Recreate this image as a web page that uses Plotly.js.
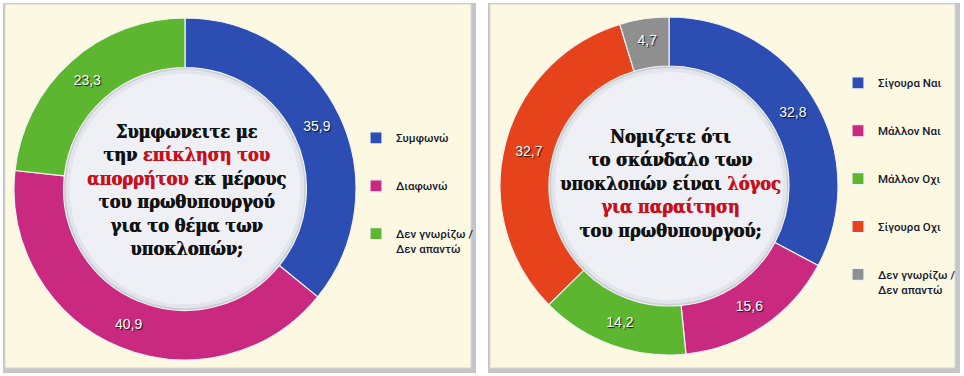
<!DOCTYPE html>
<html>
<head>
<meta charset="utf-8">
<script src="https://cdn.plot.ly/plotly-3.0.1.min.js"></script>
<style>
html, body { margin: 0; padding: 0; background: #ffffff; }
#chart { width: 964px; height: 376px; }
</style>
</head>
<body>
<div id="chart"></div>
<script>
// ---- Data ----
const leftLabels = ['Συμφωνώ', 'Διαφωνώ', 'Δεν γνωρίζω /<br>Δεν απαντώ'];
const leftValues = [35.9, 40.9, 23.3];
const leftColors = ['#2c4db2', '#c92a80', '#5cb62f'];

const rightLabels = ['Σίγουρα Ναι', 'Μάλλον Ναι', 'Μάλλον Οχι', 'Σίγουρα Οχι', 'Δεν γνωρίζω /<br>Δεν απαντώ'];
const rightValues = [32.8, 15.6, 14.2, 32.7, 4.7];
const rightColors = ['#2c4db2', '#c92a80', '#5cb62f', '#e6431d', '#8f8f8f'];

const RED = '#c8101c';
const red = s => '<span style="color:' + RED + ';text-shadow:0.6px 0 0 ' + RED + '">' + s + '</span>';
const leftQuestion = 'Συμφωνειτε με<br>την ' + red('επίκληση του') + '<br>' +
  red('απορρήτου') + ' εκ μέρους<br>του πρωθυπουργού<br>για το θέμα των<br>υποκλοπών;';
const rightQuestion = 'Νομιζετε ότι<br>το σκάνδαλο των<br>υποκλοπών είναι ' + red('λόγος') + '<br>' +
  red('για παραίτηση') + '<br>του πρωθυπουργού;';

// ---- Geometry (pixels) ----
const W = 964, H = 376;
const fx = x => x / W;
const fy = y => 1 - y / H;
const L = { cx: 185, cy: 189, r: 171 };
const R = { cx: 669, cy: 186, r: 169 };
const HOLE = 0.71;

// blank line above each legend entry spreads the entries apart;
// the suffix keeps the two pies' identical labels from merging into one legend entry
const padLabels = (labels, suffix) => labels.map(l => {
  const lines = l.split('<br>').length;
  return '\u00a0' + suffix + '<br>' + l + (lines === 1 ? '<br>\u00a0' : '');
});

function pieTrace(labels, values, colors, g, legendId, suffix) {
  return {
    type: 'pie',
    labels: padLabels(labels, suffix),
    values: values,
    sort: false,
    direction: 'clockwise',
    rotation: 0,
    hole: HOLE,
    marker: { colors: colors, line: { color: '#f2f2f2', width: 1.2 } },
    domain: { x: [fx(g.cx - g.r), fx(g.cx + g.r)], y: [fy(g.cy + g.r), fy(g.cy - g.r)] },
    textinfo: 'value',
    texttemplate: '%{value:.1f}',
    textposition: 'inside',
    insidetextorientation: 'horizontal',
    textfont: { family: 'Liberation Sans, Arial, sans-serif', size: 14, color: '#ffffff',
                shadow: '1px 1px 1px rgba(0,0,0,0.85)' },
    hoverinfo: 'skip',
    legend: legendId
  };
}

function panelShapes(x0, x1, y0, y1) {
  return [
    { type: 'rect', layer: 'below', xref: 'paper', yref: 'paper',
      x0: fx(x0 - 2), x1: fx(x1 + 5), y0: fy(y1 + 5), y1: fy(y0 - 1),
      fillcolor: '#c4c6c9', line: { width: 0 } },
    { type: 'rect', layer: 'below', xref: 'paper', yref: 'paper',
      x0: fx(x0), x1: fx(x1), y0: fy(y1), y1: fy(y0),
      fillcolor: '#fcf8e2', line: { color: '#d6d6d6', width: 1 } }
  ];
}

function holeShapes(g) {
  const hr = g.r * HOLE;
  const mk = (r, col) => ({
    type: 'circle', layer: 'below', xref: 'paper', yref: 'paper',
    xsizemode: 'pixel', ysizemode: 'pixel',
    xanchor: fx(g.cx), yanchor: fy(g.cy),
    x0: -r, x1: r, y0: -r, y1: r,
    fillcolor: col, line: { width: 0 }
  });
  return [mk(hr + 1, '#c9ccd3'), mk(hr - 2, '#e2e5eb'), mk(hr - 6, '#eef0f5')];
}

const qFont = { family: 'DejaVu Serif Condensed, DejaVu Serif, serif', size: 18, color: '#121212',
                weight: 'bold', shadow: '0.6px 0 0 #121212' };
const legFont = { family: 'Roboto, Liberation Sans, Arial, sans-serif', size: 11.5, color: '#181830', weight: 500 };

const layout = {
  width: W, height: H,
  margin: { l: 0, r: 0, t: 0, b: 0 },
  paper_bgcolor: '#ffffff',
  separators: ',.',
  showlegend: true,
  shapes: [].concat(
    panelShapes(5, 471, 4, 368),
    panelShapes(490, 955, 4, 368),
    holeShapes(L),
    holeShapes(R)
  ),
  annotations: [
    { xref: 'paper', yref: 'paper', x: fx(L.cx + 1), y: fy(L.cy + 1), text: leftQuestion,
      showarrow: false, font: qFont, align: 'center', xanchor: 'center', yanchor: 'middle' },
    { xref: 'paper', yref: 'paper', x: fx(R.cx + 1), y: fy(R.cy - 3), text: rightQuestion,
      showarrow: false, font: qFont, align: 'center', xanchor: 'center', yanchor: 'middle' }
  ],
  legend: {
    x: fx(356), y: fy(109), xanchor: 'left', yanchor: 'top',
    bgcolor: 'rgba(0,0,0,0)', font: legFont, itemclick: false, itemdoubleclick: false
  },
  legend2: {
    x: fx(838), y: fy(54), xanchor: 'left', yanchor: 'top',
    bgcolor: 'rgba(0,0,0,0)', font: legFont, itemclick: false, itemdoubleclick: false
  }
};

const data = [
  pieTrace(leftLabels, leftValues, leftColors, L, 'legend', ''),
  pieTrace(rightLabels, rightValues, rightColors, R, 'legend2', '\u200b')
];

Plotly.newPlot('chart', data, layout, { displayModeBar: false, staticPlot: true });
</script>
</body>
</html>
